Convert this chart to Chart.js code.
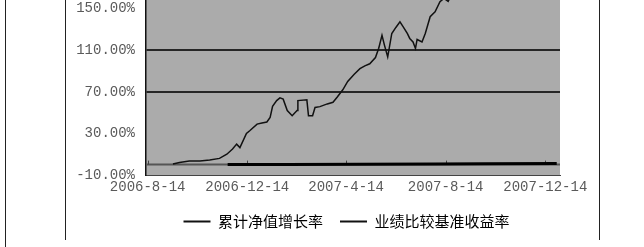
<!DOCTYPE html>
<html>
<head>
<meta charset="utf-8">
<script src="https://cdn.jsdelivr.net/npm/chart.js@4/dist/chart.umd.min.js"></script>
<style>
  html, body { margin: 0; padding: 0; background: #ffffff; }
  #wrap { position: relative; width: 644px; height: 247px; overflow: hidden; background: #ffffff; }
  #c { position: absolute; left: 0; top: 0; }
  .vline { position: absolute; top: 0; width: 0; border-left: 1.5px solid #222; }
</style>
</head>
<body>
<div id="wrap">
  <div class="vline" style="left:5px;height:247px;"></div>
  <div class="vline" style="left:65px;height:240px;"></div>
  <div class="vline" style="left:599px;height:240px;"></div>
  <canvas id="c" width="644" height="247"></canvas>
</div>
<script>
// ---- data ----
const seriesNames = ['累计净值增长率', '业绩比较基准收益率'];
const xTickDates = ['2006-8-14', '2006-12-14', '2007-4-14', '2007-8-14', '2007-12-14'];
const yTickValues = [-10, 30, 70, 110, 150];

const fundDates = [
  '2006-9-14','2006-9-22','2006-10-4','2006-10-17','2006-10-29','2006-11-10','2006-11-19','2006-11-26',
  '2006-12-1','2006-12-5','2006-12-13','2006-12-17','2006-12-26','2007-1-1','2007-1-7','2007-1-11',
  '2007-1-14','2007-1-19','2007-1-23','2007-1-27','2007-2-1','2007-2-7','2007-2-13','2007-2-14',
  '2007-2-25','2007-2-27','2007-3-4','2007-3-7','2007-3-13','2007-3-22','2007-3-29','2007-4-3',
  '2007-4-10','2007-4-16','2007-4-24','2007-5-1','2007-5-7','2007-5-13','2007-5-20','2007-5-24',
  '2007-5-28','2007-5-31','2007-6-4','2007-6-9','2007-6-14','2007-6-19','2007-6-23','2007-6-28',
  '2007-7-1','2007-7-5','2007-7-8','2007-7-10','2007-7-16','2007-7-20','2007-7-26','2007-8-1',
  '2007-8-7','2007-8-12','2007-8-17','2007-8-22','2007-9-1','2007-9-20','2007-10-10','2007-10-25',
  '2007-11-10','2007-11-28','2007-12-14','2007-12-28'
];
const fundValues = [
  0.5, 2, 3.5, 3.5, 4.5, 6, 10, 15,
  19.7, 16.4, 30, 32.6, 39, 40, 41, 45.5,
  56, 61.6, 64.2, 63, 52, 47, 52, 61.6,
  62.3, 47, 47, 55, 55.8, 58.4, 60, 64.8,
  72, 80, 87, 92.3, 95, 97, 103, 112,
  124.5, 115, 103.6, 126.2, 132, 137.4, 132.6, 126.2,
  121.4, 118, 111.7, 120.4, 118, 126.2, 142.3, 147,
  156.8, 160, 157, 165, 178, 195, 215, 205,
  190, 185, 195, 200
];

const benchDates = ['2006-11-20','2007-2-1','2007-5-1','2007-8-1','2007-10-1','2007-12-28'];
const benchValues = [0, 0.2, 0.4, 0.6, 0.9, 1.1];

// ---- helpers ----
function dayNum(s) {
  const p = s.split('-').map(Number);
  return Date.UTC(p[0], p[1] - 1, p[2]) / 86400000;
}
const fundPts = fundDates.map((d, i) => ({ x: dayNum(d), y: fundValues[i] }));
const benchPts = benchDates.map((d, i) => ({ x: dayNum(d), y: benchValues[i] }));

const decor = {
  id: 'decor',
  afterLayout(chart) {
    const lg = chart.legend;
    if (lg) { lg.left += 34; lg.right += 34; }
  },
  beforeDraw(chart) {
    const { ctx, chartArea: a } = chart;
    ctx.save();
    ctx.fillStyle = '#ababab';
    ctx.fillRect(a.left, a.top, a.right - a.left, a.bottom - a.top);
    ctx.restore();
  },
  beforeDatasetsDraw(chart) {
    const { ctx, chartArea: a, scales } = chart;
    const y0 = scales.y.getPixelForValue(0);
    ctx.save();
    ctx.strokeStyle = '#555555';
    ctx.lineWidth = 2;
    ctx.beginPath();
    ctx.moveTo(a.left, y0);
    ctx.lineTo(a.right, y0);
    ctx.stroke();
    ctx.lineWidth = 1;
    ctx.strokeStyle = '#444444';
    scales.x.ticks.forEach(t => {
      const x = Math.round(scales.x.getPixelForValue(t.value)) + 0.5;
      ctx.beginPath();
      ctx.moveTo(x, y0 - 4);
      ctx.lineTo(x, y0);
      ctx.stroke();
    });
    ctx.restore();
  }
};

new Chart(document.getElementById('c'), {
  type: 'line',
  data: {
    datasets: [
      { label: seriesNames[0], data: fundPts, borderColor: '#111111', borderWidth: 1.5,
        pointRadius: 0, tension: 0, fill: false },
      { label: seriesNames[1], data: benchPts, borderColor: '#000000', borderWidth: 3,
        pointRadius: 0, tension: 0, fill: false }
    ]
  },
  options: {
    responsive: false,
    animation: false,
    events: [],
    layout: { padding: { left: 65, right: 84, top: 0, bottom: 8 } },
    scales: {
      x: {
        type: 'linear',
        min: dayNum('2006-8-12'),
        max: dayNum('2008-1-1'),
        afterBuildTicks: s => { s.ticks = xTickDates.map(d => ({ value: dayNum(d) })); },
        afterFit: s => { s.height = 22; s.paddingLeft = 0; s.paddingRight = 0; },
        grid: { display: false, drawTicks: false },
        border: { display: true, color: '#444444', width: 1 },
        ticks: {
          autoSkip: false, maxRotation: 0, padding: 4,
          color: '#5a5a5a',
          font: { family: 'Liberation Mono', size: 14 },
          callback: (v, i) => xTickDates[i]
        }
      },
      y: {
        min: -10,
        max: 158.4,
        afterBuildTicks: s => { s.ticks = yTickValues.map(v => ({ value: v })); },
        afterFit: s => { s.width = 81; s.paddingTop = 0; s.paddingBottom = 0; },
        grid: {
          drawTicks: false,
          lineWidth: 2,
          color: ctx => (ctx.tick && (ctx.tick.value === 70 || ctx.tick.value === 110)) ? '#262626' : 'rgba(0,0,0,0)'
        },
        border: { display: true, color: '#111111', width: 1.5 },
        ticks: {
          padding: 11,
          color: '#5a5a5a',
          font: { family: 'Liberation Mono', size: 14 },
          callback: v => v.toFixed(2) + '%'
        }
      }
    },
    plugins: {
      tooltip: { enabled: false },
      legend: {
        position: 'bottom',
        labels: {
          boxWidth: 27,
          boxHeight: 2,
          padding: 17,
          color: '#111111',
          font: { family: 'Noto Sans CJK SC', size: 15 },
          generateLabels: chart => chart.data.datasets.map((ds, i) => ({
            text: ds.label, fillStyle: '#111111', strokeStyle: '#111111', lineWidth: 0,
            hidden: false, datasetIndex: i
          }))
        }
      }
    }
  },
  plugins: [decor]
});
</script>
</body>
</html>
